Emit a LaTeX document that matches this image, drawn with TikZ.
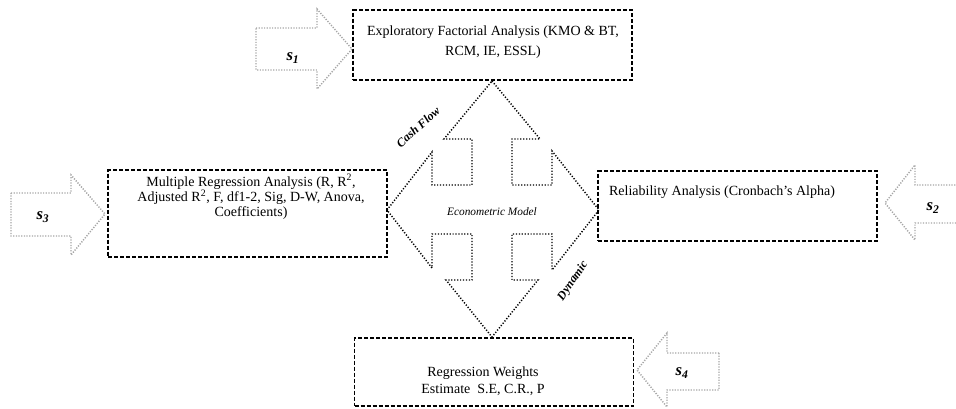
\documentclass[tikz,border=0pt]{standalone}
\usepackage{fontspec}
\setmainfont{Liberation Serif}
\begin{document}
\begin{tikzpicture}[x=0.75pt,y=-0.75pt]
    \tikzset{%
        box/.style={draw, line width=1.2pt, dash pattern=on 3pt off 1.5pt, minimum width=209pt},
        txt/.style={align=center, font=\fontsize{10.5}{#1}\selectfont},
        sarrow/.style={draw=black!35, line width=1.1pt, dash pattern=on 0.9pt off 1.1pt},
        slabel/.style={font=\fontsize{12.5}{14}\selectfont\bfseries\itshape},
        marrow/.style={draw, line width=1.1pt, dash pattern=on 0.9pt off 1.3pt},
        side/.style={font=\fontsize{9}{10}\selectfont\bfseries\itshape, inner sep=1pt}%
        }
    \useasboundingbox (0,0) rectangle (956,409);
    % boxes
    \node[box, minimum height=52.5pt](efa)at(492.5,45){};
    \node[box, minimum height=65.25pt](mra)at(247.5,213.5){};
    \node[box, minimum height=52.5pt](rel)at(737.5,206){};
    \node[box, minimum height=51pt](rw)at(494,372){};
    \node[txt=15.5pt](efat)at(493,42){Exploratory Factorial Analysis (KMO \& BT,\\RCM, IE, ESSL)};
    \node[txt=11.5pt](mrat)at(251,197){Multiple Regression Analysis (R, R\textsuperscript{2},\\Adjusted R\textsuperscript{2}, F, df1-2, Sig, D-W, Anova,\\Coefficients)};
    \node[txt=12pt](relt)at(722,192){Reliability Analysis (Cronbach’s Alpha)};
    \node[txt=12.5pt](rwt)at(483,381){Regression Weights\\Estimate\ \ S.E, C.R., P};
    % four-headed arrow
    \draw[marrow] (492,81) -- (540,139) -- (512,139) -- (512,185) -- (552,185) -- (552,151)
        -- (599,210) -- (552,270) -- (552,234) -- (512,234) -- (512,280) -- (538,280)
        -- (492,337) -- (446,280) -- (472,280) -- (472,234) -- (432,234) -- (432,268)
        -- (387,210) -- (432,152) -- (432,185) -- (472,185) -- (472,139) -- (444,139) -- cycle;
    \node[font=\fontsize{8.5}{10}\selectfont\itshape](em)at(492,212){Econometric Model};
    \node[side, rotate=42](cf)at(418,127){Cash Flow};
    \node[side, rotate=56](dy)at(573,281){Dynamic};
    % input arrows
    \draw[sarrow] (256,28) -- (317,28) -- (317,9) -- (352,49) -- (317,89) -- (317,70) -- (256,70) -- cycle;
    \draw[sarrow] (11,193) -- (71,193) -- (71,175) -- (105,214) -- (71,255) -- (71,236) -- (11,236) -- cycle;
    \draw[sarrow] (958,185) -- (915,185) -- (915,165) -- (885,203) -- (915,240) -- (915,223) -- (958,223);
    \draw[sarrow] (719,353) -- (667,353) -- (667,333) -- (637,370) -- (667,407) -- (667,390) -- (719,390) -- cycle;
    \node[slabel](s1)at(293,58){s\textsubscript{1}};
    \node[slabel](s3)at(43,217){s\textsubscript{3}};
    \node[slabel](s2)at(933,208){s\textsubscript{2}};
    \node[slabel](s4)at(682,373){s\textsubscript{4}};
\end{tikzpicture}
\end{document}
